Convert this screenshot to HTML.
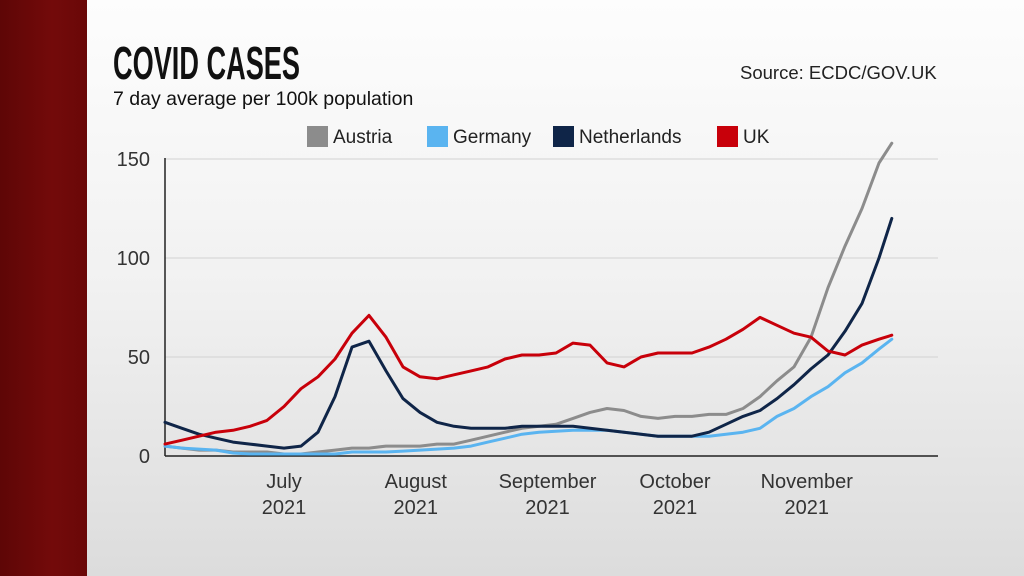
<!DOCTYPE html>
<html><head><meta charset="utf-8"><style>
html,body{margin:0;padding:0}
body{width:1024px;height:576px;overflow:hidden;position:relative;font-family:"Liberation Sans",sans-serif;background:linear-gradient(#fdfdfd 0%,#f1f1f1 50%,#dcdcdc 100%)}
#strip{position:absolute;left:0;top:0;width:87px;height:576px;background:linear-gradient(90deg,#5e0606,#730a0a 60%,#6a0808)}
#title{position:absolute;left:113px;top:38px;font-size:46px;font-weight:bold;color:#111;transform:scaleX(0.59);transform-origin:left top;line-height:50px}
#sub{position:absolute;left:113px;top:88px;font-size:19.5px;color:#111;letter-spacing:0px}
#src{position:absolute;left:740px;top:62px;font-size:18.5px;color:#222}
svg{position:absolute;left:0;top:0}
</style></head><body>
<div id="strip"></div>
<div id="title">COVID CASES</div>
<div id="sub">7 day average per 100k population</div>
<div id="src">Source: ECDC/GOV.UK</div>
<svg id="chart" width="1024" height="576"></svg>
<script>
const days=[-28,-24,-20,-16,-12,-8,-4,0,4,8,12,16,20,24,28,32,36,40,44,48,52,56,60,64,68,72,76,80,84,88,92,96,100,104,108,112,116,120,124,128,132,136,140,143];
const austria=[5,4,3,3,2,2,2,1,1,2,3,4,4,5,5,5,6,6,8,10,12,14,15,16,19,22,24,23,20,19,20,20,21,21,24,30,38,45,60,85,106,125,148,158];
const germany=[5,4,3.5,3,1.5,1,1,1,1,1,1,2,2,2,2.5,3,3.5,4,5,7,9,11,12,12.5,13,13,13,12,11,10,10,10,10,11,12,14,20,24,30,35,42,47,54,59];
const netherlands=[17,14,11,9,7,6,5,4,5,12,30,55,58,43,29,22,17,15,14,14,14,15,15,15,15,14,13,12,11,10,10,10,12,16,20,23,29,36,44,51,63,77,100,120];
const uk=[6,8,10,12,13,15,18,25,34,40,49,62,71,60,45,40,39,41,43,45,49,51,51,52,57,56,47,45,50,52,52,52,55,59,64,70,66,62,60,53,51,56,59,61];
const yTicks=[0,50,100,150];
const monthLabels=["July","August","September","October","November"];
const monthDays=[0,31,62,92,123];
const seriesNames=["Austria","Germany","Netherlands","UK"];
const seriesColors=["#8c8c8c","#5ab4f0","#0f2548","#c8000a"];

const svg=document.getElementById('chart');
const NS='http://www.w3.org/2000/svg';
const X=d=>165+(d+28)*4.25;
const Y=v=>456-v*1.98;
function mk(tag,attrs,parent){const e=document.createElementNS(NS,tag);for(const k in attrs)e.setAttribute(k,attrs[k]);(parent||svg).appendChild(e);return e;}

yTicks.forEach((t,i)=>{
  if(t>0){const g=mk('line',{x1:165,x2:938,y1:Y(t),y2:Y(t),stroke:'#d2d2d2','stroke-width':1});
  
  }
  const tx=mk('text',{x:150,y:Y(t)+7,'text-anchor':'end','font-size':20,fill:'#333','font-family':'Liberation Sans, sans-serif'});
  tx.textContent=t;
  
  
});
monthLabels.forEach((m,i)=>{
  const x=X(monthDays[i]);
  const t1=mk('text',{x:x,y:488,'text-anchor':'middle','font-size':20,fill:'#333','font-family':'Liberation Sans, sans-serif'});
  t1.textContent=m;
  
  
  const t2=mk('text',{x:x,y:514,'text-anchor':'middle','font-size':20,fill:'#333','font-family':'Liberation Sans, sans-serif'});
  t2.textContent='2021';
  
  
});
const ya=mk('line',{x1:165,x2:165,y1:158,y2:456,stroke:'#222','stroke-width':1.5});


const xa=mk('line',{x1:165,x2:938,y1:456,y2:456,stroke:'#222','stroke-width':1.5});



const data=[austria,germany,netherlands,uk];
data.forEach((vals,si)=>{
  const pts=vals.map((v,i)=>X(days[i]).toFixed(1)+','+Y(v).toFixed(1)).join(' ');
  const p=mk('polyline',{points:pts,fill:'none',stroke:seriesColors[si],'stroke-width':3,'stroke-linejoin':'round','stroke-linecap':'round'});
  
  
});

const legX=[307,427,553,717];
seriesNames.forEach((n,i)=>{
  const r=mk('rect',{x:legX[i],y:126,width:21,height:21,fill:seriesColors[i]});
  
  
  const t=mk('text',{x:legX[i]+26,y:143,'font-size':19,fill:'#222','font-family':'Liberation Sans, sans-serif'});
  t.textContent=n;
  
  
});
</script>
</body></html>
